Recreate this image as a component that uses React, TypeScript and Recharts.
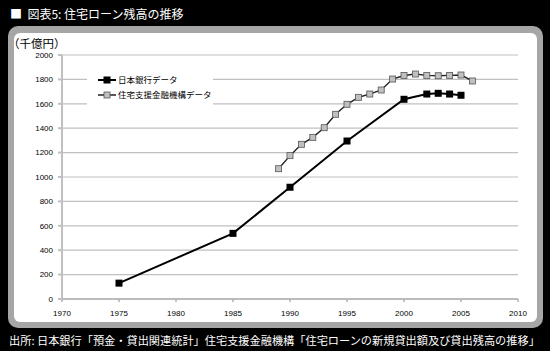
import React from 'react';
import { LineChart, Line, XAxis, YAxis, CartesianGrid, Legend } from 'recharts';

const TITLE = '■  図表5: 住宅ローン残高の推移';
const UNIT_LABEL = '（千億円）';
const SOURCE = '出所: 日本銀行「預金・貸出関連統計」住宅支援金融機構「住宅ローンの新規貸出額及び貸出残高の推移」';

const boj_years = [1975, 1985, 1990, 1995, 2000, 2002, 2003, 2004, 2005];
const boj_values = [130, 538, 916, 1295, 1637, 1680, 1686, 1680, 1670];

const jhf_years = [1989, 1990, 1991, 1992, 1993, 1994, 1995, 1996, 1997, 1998, 1999, 2000, 2001, 2002, 2003, 2004, 2005, 2006];
const jhf_values = [1068, 1175, 1268, 1325, 1404, 1514, 1596, 1653, 1680, 1713, 1803, 1832, 1844, 1833, 1830, 1833, 1836, 1787];

const series_names = ['日本銀行データ', '住宅支援金融機構データ'];
const x_ticks = [1970, 1975, 1980, 1985, 1990, 1995, 2000, 2005, 2010];
const y_ticks = [0, 200, 400, 600, 800, 1000, 1200, 1400, 1600, 1800, 2000];

const bojData = boj_years.map((year, i) => ({ year, value: boj_values[i] }));
const jhfData = jhf_years.map((year, i) => ({ year, value: jhf_values[i] }));

const JP = '"Noto Sans CJK JP", "Noto Sans", sans-serif';
const NUM = '"Liberation Sans", Arial, sans-serif';

const BlackSq = (props: any) => {
  const { cx, cy } = props;
  if (cx == null || cy == null) return null;
  return <rect x={cx - 3.5} y={cy - 3.5} width={7} height={7} fill="#000" />;
};

const GraySq = (props: any) => {
  const { cx, cy } = props;
  if (cx == null || cy == null) return null;
  return <rect x={cx - 3} y={cy - 3} width={6} height={6} fill="#c0c0c0" stroke="#555" strokeWidth={0.8} />;
};

const LegendContent = () => (
  <div style={{ background: '#fff', padding: '3px 0 3px 10px', fontFamily: JP, fontSize: 8.5, color: '#000', lineHeight: '15px' }}>
    <div style={{ display: 'flex', alignItems: 'center' }}>
      <svg width={20} height={10}>
        <line x1={1} y1={5} x2={19} y2={5} stroke="#000" strokeWidth={2} />
        <rect x={6.5} y={1.5} width={7} height={7} fill="#000" />
      </svg>
      <span style={{ marginLeft: 1 }}>{series_names[0]}</span>
    </div>
    <div style={{ display: 'flex', alignItems: 'center' }}>
      <svg width={20} height={10}>
        <line x1={1} y1={5} x2={19} y2={5} stroke="#222" strokeWidth={1.5} />
        <rect x={7} y={2} width={6} height={6} fill="#c0c0c0" stroke="#555" strokeWidth={0.8} />
      </svg>
      <span style={{ marginLeft: 1 }}>{series_names[1]}</span>
    </div>
  </div>
);

export default function App() {
  return (
    <div style={{ position: 'absolute', left: 0, top: 0, width: 550, height: 351, background: '#000', overflow: 'hidden' }}>
      <div style={{ position: 'absolute', left: 10, top: 5, color: '#fff', fontFamily: JP, fontSize: 12, lineHeight: '18px', whiteSpace: 'pre' }}>{TITLE}</div>
      <div style={{ position: 'absolute', left: 8, top: 26, width: 535, height: 302, background: '#a6a6a6', borderRadius: 10 }} />
      <div style={{ position: 'absolute', left: 14, top: 33, width: 523, height: 289, background: '#fff', borderRadius: 6 }} />
      <div style={{ position: 'absolute', left: 8, top: 34, color: '#000', fontFamily: JP, fontSize: 11.5, lineHeight: '18px', whiteSpace: 'pre' }}>{UNIT_LABEL}</div>
      <div style={{ position: 'absolute', left: 0, top: 0 }}>
        <LineChart width={550} height={351} margin={{ top: 55, right: 32, bottom: 22, left: 0 }}>
          <CartesianGrid horizontal vertical={false} stroke="#c0c0c0" strokeWidth={1.2} />
          <XAxis
            type="number"
            dataKey="year"
            domain={[1970, 2010]}
            ticks={x_ticks}
            allowDuplicatedCategory={false}
            height={30}
            stroke="#b0b0b0"
            strokeWidth={1.5}
            tickSize={3}
            tickMargin={8}
            tick={{ fill: '#000', fontSize: 8, fontFamily: NUM }}
            interval={0}
          />
          <YAxis
            type="number"
            domain={[0, 2000]}
            ticks={y_ticks}
            width={62}
            stroke="#c0c0c0"
            strokeWidth={2}
            tickSize={4}
            tickMargin={5}
            tick={{ fill: '#000', fontSize: 8, fontFamily: NUM }}
            interval={0}
          />
          <Legend
            layout="vertical"
            align="center"
            verticalAlign="middle"
            content={<LegendContent />}
            wrapperStyle={{ left: 87, top: 69, width: 126, height: 38 }}
          />
          <Line data={bojData} dataKey="value" name={series_names[0]} stroke="#000" strokeWidth={2} dot={<BlackSq />} isAnimationActive={false} />
          <Line data={jhfData} dataKey="value" name={series_names[1]} stroke="#222" strokeWidth={1.4} dot={<GraySq />} isAnimationActive={false} />
        </LineChart>
      </div>
      <div style={{ position: 'absolute', left: 9, top: 331, color: '#fff', fontFamily: JP, fontSize: 11.2, lineHeight: '18px', whiteSpace: 'pre' }}>{SOURCE}</div>
    </div>
  );
}
